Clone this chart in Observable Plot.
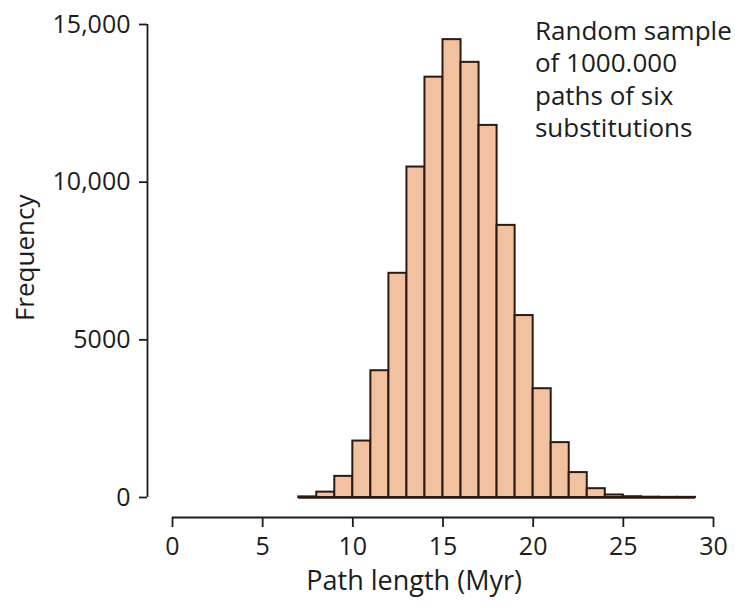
<!DOCTYPE html>
<html><head><meta charset="utf-8">
<script src="https://cdn.jsdelivr.net/npm/d3@7"></script>
<script src="https://cdn.jsdelivr.net/npm/@observablehq/plot@0.6"></script>
<style>body{margin:0;background:#fff} svg{display:block}</style>
</head><body><div id="chart"></div>
<script>
const binStart = [7, 8, 9, 10, 11, 12, 13, 14, 15, 16, 17, 18, 19, 20, 21, 22, 23, 24, 25, 26, 27, 28];
const binEnd   = [8, 9, 10, 11, 12, 13, 14, 15, 16, 17, 18, 19, 20, 21, 22, 23, 24, 25, 26, 27, 28, 29];
const frequency = [20, 170, 670, 1790, 4020, 7110, 10480, 13330, 14520, 13800, 11800, 8630, 5770, 3450, 1740, 790, 280, 80, 25, 10, 5, 5];
const xTicks = [0, 5, 10, 15, 20, 25, 30];
const yTicks = [0, 5000, 10000, 15000];
const yTickLabels = ["0", "5000", "10,000", "15,000"];
const xLabel = "Path length (Myr)";
const yLabel = "Frequency";
const note = ["Random sample", "of 1000.000", "paths of six", "substitutions"];

const bins = binStart.map((s, i) => ({x1: s, x2: binEnd[i], y: frequency[i]}));
const ink = "#1c1c1c";
const barStroke = "#2b1a12";
const chart = Plot.plot({
  width: 735, height: 606,
  marginLeft: 147, marginRight: 22, marginTop: 24, marginBottom: 89,
  style: {fontFamily: "'Open Sans', sans-serif", fontSize: "25px", color: ink, background: "white"},
  x: {domain: [0, 30], insetLeft: 25},
  y: {domain: [0, 15000], insetBottom: 20},
  marks: [
    Plot.rectY(bins, {x1: "x1", x2: "x2", y: "y", fill: "#f2c2a0", stroke: barStroke, strokeWidth: 2}),
    Plot.ruleY([0], {x1: binStart[0], x2: binEnd[binEnd.length - 1], stroke: barStroke, strokeWidth: 2.5}),
    Plot.ruleX([0], {y1: yTicks[0], y2: yTicks[yTicks.length - 1], dx: -25, stroke: ink, strokeWidth: 1.8}),
    Plot.axisY({ticks: yTicks, tickFormat: d => yTickLabels[yTicks.indexOf(d)], tickSize: 8, tickPadding: 9, label: null, strokeWidth: 1.8, fontSize: 25}),
    Plot.ruleY([0], {x1: xTicks[0], x2: xTicks[xTicks.length - 1], dy: 20, stroke: ink, strokeWidth: 1.8}),
    Plot.axisX({ticks: xTicks, tickSize: 10, tickPadding: 10, label: null, strokeWidth: 1.8, fontSize: 25}),
    Plot.text([xLabel], {text: d => d, x: 13.4, frameAnchor: "bottom", dy: 72, fill: ink, fontSize: 27}),
    Plot.text([yLabel], {text: d => d, y: 7600, frameAnchor: "left", textAnchor: "middle", dx: -122, rotate: -90, fill: ink, fontSize: 26}),
    Plot.text([note.join("\n")], {text: d => d, x: 20.1, y: 15240, textAnchor: "start", lineAnchor: "top", lineHeight: 1.25, fill: ink, fontSize: 26})
  ]
});
document.getElementById("chart").appendChild(chart);
</script>
</body></html>
